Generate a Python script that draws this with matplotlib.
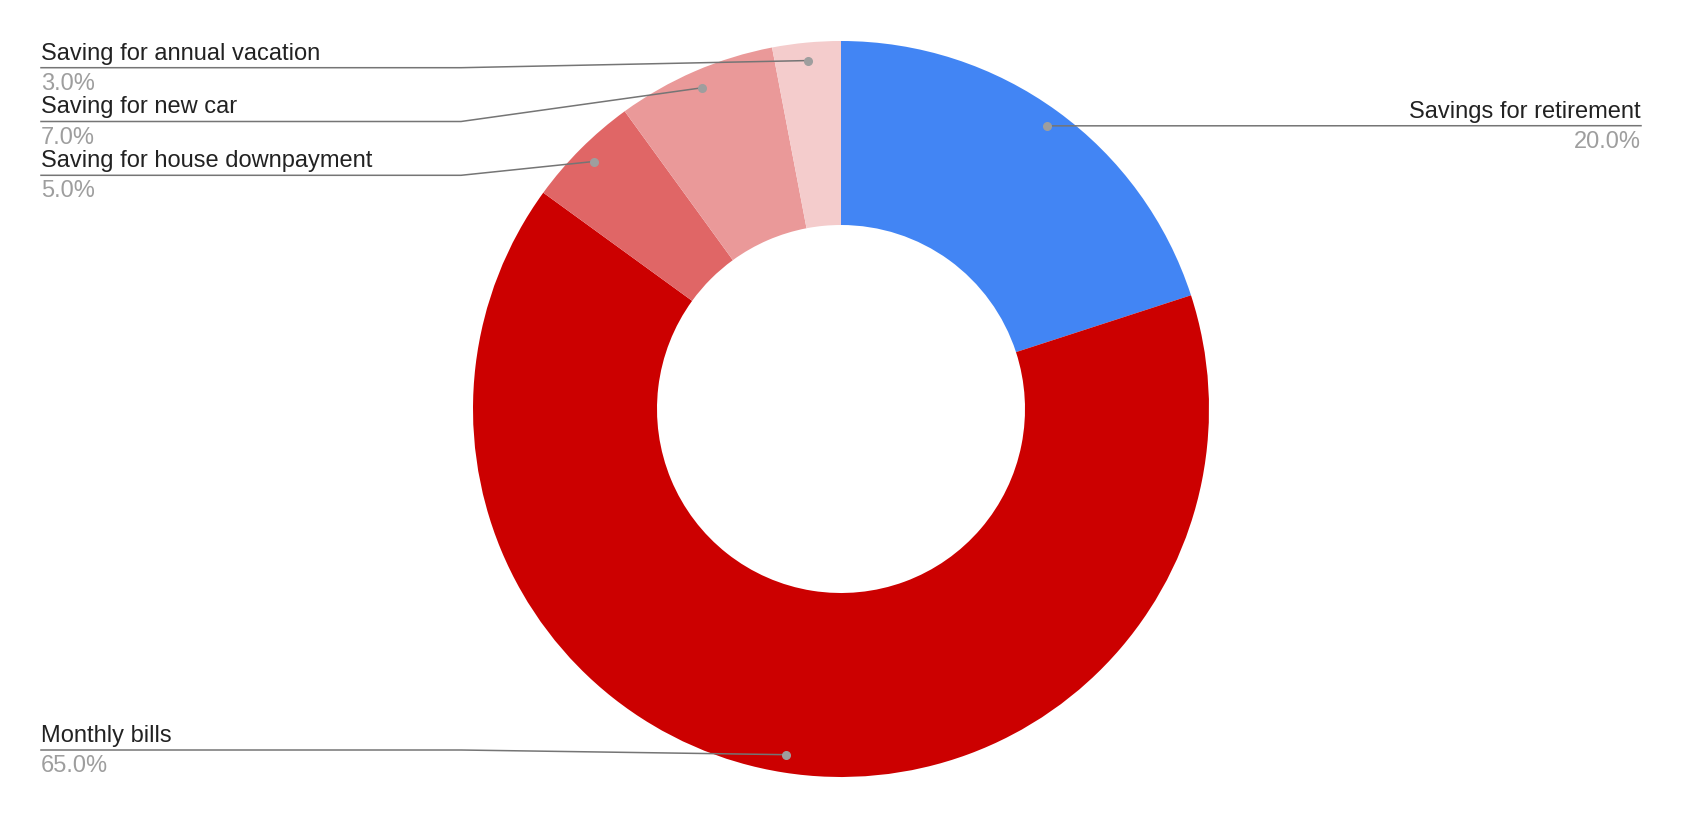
import matplotlib
matplotlib.use("Agg")
import matplotlib.pyplot as plt
import numpy as np

# data
labels = ["Savings for retirement", "Monthly bills", "Saving for house downpayment",
          "Saving for new car", "Saving for annual vacation"]
shares = [20.0, 65.0, 5.0, 7.0, 3.0]
colors = ["#4285F4", "#CC0000", "#E06666", "#EA9999", "#F4CCCC"]

W, H = 1682, 818
plt.rcParams['font.family'] = ['Liberation Sans', 'DejaVu Sans']

fig = plt.figure(figsize=(W / 100, H / 100), dpi=100)
ax = fig.add_axes([0, 0, 1, 1])
ax.set_xlim(0, W)
ax.set_ylim(0, H)
ax.set_aspect('equal')
ax.axis('off')

cx, cy = 841, H - 409
R = 368
wedges, _ = ax.pie(shares, colors=colors, startangle=90, counterclock=False,
                   radius=R, center=(cx, cy), frame=True,
                   wedgeprops=dict(width=R - 184, linewidth=0))
ax.set_xlim(0, W)
ax.set_ylim(0, H)
ax.axis('off')

# label layout (pixel rows of the underline, from top)
underline = {0: 125.7, 1: 750, 2: 175.3, 3: 121.5, 4: 67.7}
left_x, bend_x, right_x = 41, 461, 1641
line_col = "#757575"
dot_col = "#9E9E9E"

for i, w in enumerate(wedges):
    mid = np.deg2rad((w.theta1 + w.theta2) / 2)
    dx = cx + 350 * np.cos(mid)
    dy = cy + 350 * np.sin(mid)
    uy = H - underline[i]
    pct = f"{shares[i] / sum(shares) * 100:.1f}%"
    if np.cos(mid) > 0.3:
        ax.plot([dx, right_x], [dy, uy], color=line_col, lw=1.1, zorder=3)
        ax.text(right_x, uy + 8, labels[i], ha='right', va='baseline',
                fontsize=17, color="#222222")
        ax.text(right_x, uy - 22, pct, ha='right', va='baseline',
                fontsize=17, color="#9E9E9E")
    else:
        ax.plot([dx, bend_x, left_x], [dy, uy, uy], color=line_col, lw=1.1, zorder=3)
        ax.text(left_x, uy + 8, labels[i], ha='left', va='baseline',
                fontsize=17, color="#222222")
        ax.text(left_x, uy - 22, pct, ha='left', va='baseline',
                fontsize=17, color="#9E9E9E")
    ax.plot(dx, dy, 'o', color=dot_col, markersize=5.5, zorder=4)

fig.savefig("out.png", dpi=100, facecolor="white")
